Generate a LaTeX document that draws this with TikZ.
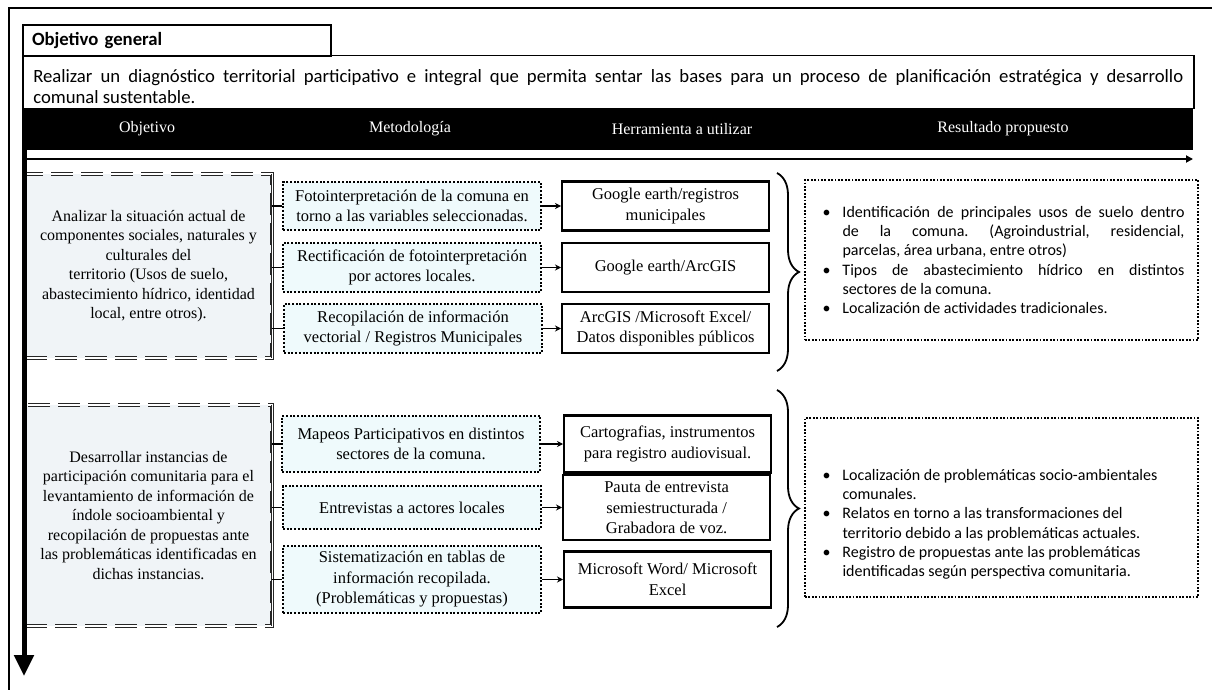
\documentclass[tikz,border=0pt]{standalone}
\usepackage{fontspec}
\setmainfont{Liberation Serif}
\newfontfamily\calibri{Carlito}
\usetikzlibrary{arrows.meta, positioning, decorations.pathreplacing}
\frenchspacing

\definecolor{fondoobj}{HTML}{F0F4F7}
\definecolor{fondomet}{HTML}{EFFAFC}

% vineta con sangria francesa
\newcommand{\vineta}[1]{\par\noindent\hangindent=24pt\hangafter=1\makebox[24pt][l]{\hspace{4pt}\textbullet}#1\par}
\newcommand{\lineajust}[1]{\makebox[342pt][s]{#1}\newline}

\begin{document}
\begin{tikzpicture}[x=1pt, y=-1pt,
  objetivo/.style={rectangle, fill=fondoobj, draw=black!85, double, double distance=1.6pt,
               line width=0.9pt, dash pattern=on 22pt off 8pt, minimum width=247pt,
               inner sep=0pt, align=center, font=\fontsize{16}{19.5}\selectfont},
  metodo/.style={rectangle, draw=black, line width=2pt, dash pattern=on 2pt off 1.7pt,
               fill=fondomet, minimum width=258pt, inner sep=0pt, align=center,
               font=\fontsize{16.5}{20.5}\selectfont},
  herramienta/.style={rectangle, draw=black, line width=2.2pt, fill=white, minimum width=207pt,
               inner sep=0pt, align=center, font=\fontsize{16.5}{20.5}\selectfont},
  resultado/.style={rectangle, draw=black, line width=1.7pt, dash pattern=on 1.8pt off 1.6pt,
               minimum width=393pt, inner sep=0pt, font=\calibri\fontsize{16}{19.3}\selectfont},
  titulo/.style={font=\fontsize{16}{18}\selectfont, text=white},
  enlace/.style={line width=1.5pt, black},
  fl/.style={-{Stealth[length=6pt, width=6pt]}, line width=1.5pt, black},
  llave/.style={decorate, decoration={brace, amplitude=22pt, aspect=0.5}, line width=1.8pt}
]
\useasboundingbox (0,0) rectangle (1212,690);
\draw[line width=2pt] (9,690) -- (9,8) -- (1212,8);

% ---- Objetivo general ----
\node[rectangle, draw, line width=2pt, anchor=north west, minimum width=308pt, minimum height=31pt,
      inner xsep=9pt, inner ysep=0pt, text width=290pt, font=\calibri\fontsize{18.7}{21}\selectfont]
  (og) at (22,24) {\textbf{Objetivo general}};
\node[rectangle, draw, line width=1.5pt, anchor=north west, minimum width=1171pt, minimum height=53pt,
      inner xsep=10pt, inner ysep=0pt, font=\calibri\fontsize{18.7}{20.5}\selectfont]
  (desc) at (22,55) {\parbox[t][53pt][t]{1150pt}{\vspace*{14pt}\noindent
  \makebox[\linewidth][s]{Realizar un diagnóstico territorial participativo e integral que permita
  sentar las bases para un proceso de planificación estratégica y desarrollo}\newline
  comunal sustentable.}};

% ---- Cabecera ----
\node[rectangle, fill=black, anchor=north west, minimum width=1171pt, minimum height=42pt,
      inner sep=0pt] (banda) at (22,108) {};
\node[titulo] (t1) at (147,129) {Objetivo};
\node[titulo] (t2) at (410,129) {Metodología};
\node[titulo] (t3) at (682,129) {Herramienta a utilizar};
\node[titulo] (t4) at (1003,129) {Resultado propuesto};

% ---- Bloque 1 ----
\node[objetivo, minimum height=184pt] (o1) at (148.5,266) {Analizar la situación actual de\\
  componentes sociales, naturales y\\culturales del\\territorio (Usos de suelo,\\
  abastecimiento hídrico, identidad\\local, entre otros).};
\draw[black!85, double, double distance=1.6pt, line width=0.9pt] (o1.north east) -- (o1.south east);
\node[metodo, minimum height=48pt] (m11) at (412,206) {Fotointerpretación de la comuna en\\torno a las variables seleccionadas.};
\node[metodo, minimum height=49pt] (m12) at (412,267.5) {Rectificación de fotointerpretación\\por actores locales.};
\node[metodo, minimum height=49pt] (m13) at (413,328.5) {Recopilación de información\\vectorial / Registros Municipales};
\node[herramienta, minimum height=49pt, right=19pt of m11] (h11) {Google earth/registros\\municipales};
\node[herramienta, minimum height=49pt, right=19pt of m12] (h12) {Google earth/ArcGIS};
\node[herramienta, minimum height=49pt, right=18pt of m13] (h13) {ArcGIS /Microsoft Excel/\\Datos disponibles públicos};
\node[resultado, minimum height=160pt] (r1) at (1001.5,260) {\parbox[c][160pt][c]{366pt}{%
  \vineta{\lineajust{Identificación de principales usos de suelo dentro}%
  \lineajust{de la comuna. (Agroindustrial, residencial,}parcelas, área urbana, entre otros)}
  \vineta{\lineajust{Tipos de abastecimiento hídrico en distintos}sectores de la comuna.}
  \vineta{Localización de actividades tradicionales.}}};
\coordinate (l1a) at (777,173);
\coordinate (l1b) at (777,371);
\draw[llave] (l1a) -- (l1b);

% ---- Bloque 2 ----
\node[objetivo, minimum height=221pt] (o2) at (148.5,515.5) {Desarrollar instancias de\\
  participación comunitaria para el\\levantamiento de información de\\índole socioambiental y\\
  recopilación de propuestas ante\\las problemáticas identificadas en\\dichas instancias.};
\draw[black!85, double, double distance=1.6pt, line width=0.9pt] (o2.north east) -- (o2.south east);
\node[metodo, minimum height=56pt] (m21) at (411,444) {Mapeos Participativos en distintos\\sectores de la comuna.};
\node[metodo, minimum height=43pt] (m22) at (412,507.5) {Entrevistas a actores locales};
\node[metodo, minimum height=67pt] (m23) at (412,579.5) {Sistematización en tablas de\\información recopilada.\\(Problemáticas y propuestas)};
\node[herramienta, minimum height=57pt, right=22pt of m21] (h21) {Cartografias, instrumentos\\para registro audiovisual.};
\node[herramienta, minimum height=65pt, right=20pt of m22] (h22) {Pauta de entrevista\\semiestructurada /\\Grabadora de voz.};
\node[herramienta, minimum height=56pt, right=21pt of m23] (h23) {Microsoft Word/ Microsoft\\Excel};
\node[resultado, minimum height=179pt] (r2) at (1001.5,507.5) {\parbox[c][179pt][t]{366pt}{\vspace*{51pt}%
  \vineta{Localización de problemáticas socio-ambientales\newline comunales.}
  \vineta{Relatos en torno a las transformaciones del\newline territorio debido a las problemáticas actuales.}
  \vineta{Registro de propuestas ante las problemáticas\newline identificadas según perspectiva comunitaria.}}};
\coordinate (l2a) at (777,390);
\coordinate (l2b) at (777,627);
\draw[llave] (l2a) -- (l2b);

% ---- Enlaces ----
\foreach \m in {m11,m12,m13} \draw[enlace] (\m.west -| o1.east) -- (\m.west);
\foreach \m in {m21,m22,m23} \draw[enlace] (\m.west -| o2.east) -- (\m.west);
\foreach \m/\h in {m11/h11,m12/h12,m13/h13,m21/h21,m22/h22,m23/h23}
  \draw[fl] (\m.east) -- (\m.east -| \h.west);

% ---- Ejes ----
\coordinate (ejeo) at (24,150);
\coordinate (ejev) at (24,676);
\coordinate (ejeh) at (1193,159);
\draw[line width=2.2pt, -{Triangle[length=7pt, width=7pt]}] (ejeo |- ejeh) -- (ejeh);
\draw[line width=5pt, -{Triangle[length=21pt, width=19pt]}] (ejeo) -- (ejev);
\end{tikzpicture}
\end{document}
